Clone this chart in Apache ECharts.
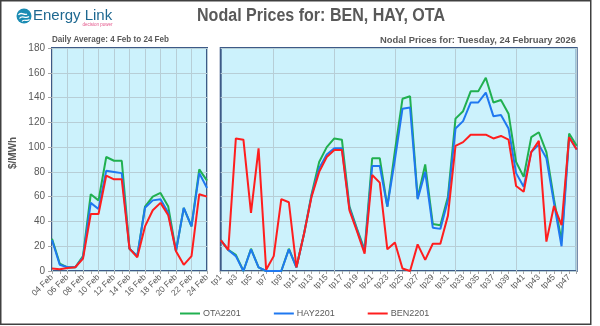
<!DOCTYPE html>
<html>
<head>
<meta charset="utf-8">
<script src="https://cdn.jsdelivr.net/npm/echarts@6/dist/echarts.min.js"></script>
<style>
  html, body { margin: 0; padding: 0; background: #ffffff; }
  #chart { width: 600px; height: 326px; }
</style>
</head>
<body>
<div id="chart"></div>
<script>
// Daily averages, 4 Feb to 24 Feb
const days = ['04 Feb', '05 Feb', '06 Feb', '07 Feb', '08 Feb', '09 Feb', '10 Feb',
  '11 Feb', '12 Feb', '13 Feb', '14 Feb', '15 Feb', '16 Feb', '17 Feb', '18 Feb',
  '19 Feb', '20 Feb', '21 Feb', '22 Feb', '23 Feb', '24 Feb'];
const dailyOTA = [26, 6, 3, 3, 12, 62, 57, 92, 89, 89, 18, 12, 52, 60, 63, 52, 16, 51, 36, 82, 73];
const dailyHAY = [25, 5, 3, 3, 11, 55, 50, 81, 80, 79, 18, 12, 51, 57, 58, 47, 16, 51, 36, 79, 67];
const dailyBEN = [2, 1.5, 2.5, 3, 10, 46, 46, 77, 74, 74, 18, 11, 36, 49, 55, 45, 16, 5, 12, 62, 60];

// Trading periods for Tuesday 24 February 2026
const periods = ['tp1', 'tp2', 'tp3', 'tp4', 'tp5', 'tp6', 'tp7', 'tp8', 'tp9', 'tp10',
  'tp11', 'tp12', 'tp13', 'tp14', 'tp15', 'tp16', 'tp17', 'tp18', 'tp19', 'tp20',
  'tp21', 'tp22', 'tp23', 'tp24', 'tp25', 'tp26', 'tp27', 'tp28', 'tp29', 'tp30',
  'tp31', 'tp32', 'tp33', 'tp34', 'tp35', 'tp36', 'tp37', 'tp38', 'tp39', 'tp40',
  'tp41', 'tp42', 'tp43', 'tp44', 'tp45', 'tp46', 'tp47', 'tp48'];
const tpOTA = [25, 17, 13, 0, 18, 3, 0, 0, 0, 18, 3, 30, 62, 88, 100, 107, 106, 52, 34, 17,
  91, 91, 52, 97, 139, 141, 59, 86, 38, 37, 60, 123, 129, 145, 145, 156, 136, 138, 127, 88,
  76, 108, 112, 96, 58, 24, 111, 101];
const tpHAY = [25, 17, 12, 0, 17.5, 3, 0, 0, 0, 17.5, 3, 30, 61, 83, 94, 99, 99, 50.6, 33, 15.6,
  84.7, 84.7, 52, 90, 131, 132, 58, 80, 35, 34, 57, 115, 121, 136, 136, 144, 125, 126, 115, 79,
  68, 96, 102, 91, 55, 20, 108, 98];
const tpBEN = [25, 17, 107, 106, 47, 99, 1, 12, 58, 55.5, 3, 30, 60, 80, 92, 97.7, 97.7, 49, 32, 14,
  77.5, 71.3, 17.5, 23, 2, 0, 21.5, 9, 22, 22, 44.7, 101, 104, 110, 110, 110, 107, 109, 106, 68.6,
  64, 96, 105, 23.7, 52.5, 37, 108, 98];

const yTicks = { min: 0, max: 180, step: 20 };
const names = ['OTA2201', 'HAY2201', 'BEN2201'];
const colors = ['#20b050', '#1f78f0', '#ff1e1e'];

const gridLine = '#b7ced6';
const textGrey = '#595959';
const sans = '"Liberation Sans", Arial, sans-serif';

// Headings use a condensed look: measure the text, then squeeze it horizontally.
const measureCtx = document.createElement('canvas').getContext('2d');
function squeeze(text, font, targetWidth) {
  measureCtx.font = font;
  const w = measureCtx.measureText(text).width;
  return w > 0 ? targetWidth / w : 1;
}

const panel = {
  show: true,
  backgroundColor: '#ccf2fc',
  borderColor: '#3d5a87',
  borderWidth: 2,
  top: 48,
  height: 223
};

function xAxisFor(gridIndex, data, splitInterval) {
  return {
    type: 'category', gridIndex, data, boundaryGap: false,
    axisLine: { show: false },
    axisTick: { show: true, interval: 0, length: 3, lineStyle: { color: '#a6a6a6' } },
    axisLabel: { interval: 1, rotate: 45, fontSize: 8.5, color: textGrey, fontFamily: sans, margin: 5 },
    splitLine: { show: true, interval: splitInterval, lineStyle: { color: gridLine, width: 1 } }
  };
}

function yAxisFor(gridIndex, showLabels) {
  return {
    type: 'value', gridIndex, min: yTicks.min, max: yTicks.max, interval: yTicks.step,
    axisLine: { show: false },
    axisTick: { show: showLabels, length: 4, lineStyle: { color: '#a6a6a6' } },
    axisLabel: { show: showLabels, fontSize: 10, color: textGrey, fontFamily: sans, margin: 7 },
    splitLine: { show: true, lineStyle: { color: gridLine, width: 1 } }
  };
}

function lineSeries(name, color, data, idx) {
  return {
    name, type: 'line', data, xAxisIndex: idx, yAxisIndex: idx,
    symbol: 'none', showSymbol: false, animation: false,
    lineStyle: { color, width: 2 }, itemStyle: { color }
  };
}

const titleText = 'Nodal Prices for: BEN, HAY, OTA';
const titleFont = 'bold 18px ' + sans;
const leftSub = 'Daily Average: 4 Feb to 24 Feb';
const leftSubFont = 'bold 9px ' + sans;
const rightSub = 'Nodal Prices for: Tuesday, 24 February 2026';
const rightSubFont = 'bold 9.5px ' + sans;

const option = {
  backgroundColor: '#ffffff',
  animation: false,
  grid: [
    Object.assign({}, panel, { left: 52, width: 155 }),
    Object.assign({}, panel, { left: 220.7, width: 356 })
  ],
  xAxis: [
    xAxisFor(0, days, 1),
    xAxisFor(1, periods, function (i) { return i % 8 === 7; })
  ],
  yAxis: [yAxisFor(0, true), yAxisFor(1, false)],
  legend: {
    data: names,
    left: 180, top: 309, padding: 0,
    icon: 'rect', itemWidth: 20, itemHeight: 2, itemGap: 33,
    textStyle: { fontSize: 9, color: textGrey, fontFamily: sans, padding: [0, 0, 0, -2] }
  },
  series: [
    lineSeries(names[0], colors[0], dailyOTA, 0),
    lineSeries(names[1], colors[1], dailyHAY, 0),
    lineSeries(names[2], colors[2], dailyBEN, 0),
    lineSeries(names[0], colors[0], tpOTA, 1),
    lineSeries(names[1], colors[1], tpHAY, 1),
    lineSeries(names[2], colors[2], tpBEN, 1)
  ],
  graphic: [
    // outer frame
    { type: 'rect', silent: true, z: 100,
      shape: { x: 0.75, y: 0.75, width: 590, height: 323.5 },
      style: { fill: 'none', stroke: '#404040', lineWidth: 1.5 } },
    // logo mark
    { type: 'circle', shape: { cx: 24, cy: 16, r: 7.5 }, style: { fill: '#1b8cb3' } },
    { type: 'bezierCurve', shape: { x1: 18.5, y1: 15, cpx1: 21, cpy1: 11, x2: 27, y2: 14, cpx2: 24, cpy2: 16 },
      style: { stroke: '#ffffff', lineWidth: 1.3, fill: 'none' } },
    { type: 'bezierCurve', shape: { x1: 19.5, y1: 18.5, cpx1: 22, cpy1: 14.5, x2: 29, y2: 16.5, cpx2: 25.5, cpy2: 19.5 },
      style: { stroke: '#ffffff', lineWidth: 1.3, fill: 'none' } },
    { type: 'bezierCurve', shape: { x1: 22, y1: 21.5, cpx1: 24, cpy1: 18.5, x2: 29.5, y2: 19.5, cpx2: 27, cpy2: 22 },
      style: { stroke: '#ffffff', lineWidth: 1.1, fill: 'none' } },
    { type: 'text', x: 33, y: 16,
      style: { text: 'Energy Link', fill: '#1e6890', font: '15px ' + sans, verticalAlign: 'middle' } },
    { type: 'text', x: 97.5, y: 25,
      style: { text: 'decision power', fill: '#e4558a', font: '4.5px ' + sans, align: 'center', verticalAlign: 'middle' } },
    // headings
    { type: 'text', x: 321, y: 16.5, scaleX: squeeze(titleText, titleFont, 248),
      style: { text: titleText, fill: textGrey, font: titleFont, align: 'center', verticalAlign: 'middle' } },
    { type: 'text', x: 52, y: 40, scaleX: squeeze(leftSub, leftSubFont, 117),
      style: { text: leftSub, fill: textGrey, font: leftSubFont, align: 'left', verticalAlign: 'middle' } },
    { type: 'text', x: 576, y: 40, scaleX: squeeze(rightSub, rightSubFont, 196),
      style: { text: rightSub, fill: textGrey, font: rightSubFont, align: 'right', verticalAlign: 'middle' } },
    // value axis name
    { type: 'text', x: 13, y: 153, rotation: Math.PI / 2,
      style: { text: '$/MWh', fill: textGrey, font: 'bold 10px ' + sans, align: 'center', verticalAlign: 'middle' } }
  ]
};

const chart = echarts.init(document.getElementById('chart'), null, { renderer: 'canvas' });
chart.setOption(option);
</script>
</body>
</html>
